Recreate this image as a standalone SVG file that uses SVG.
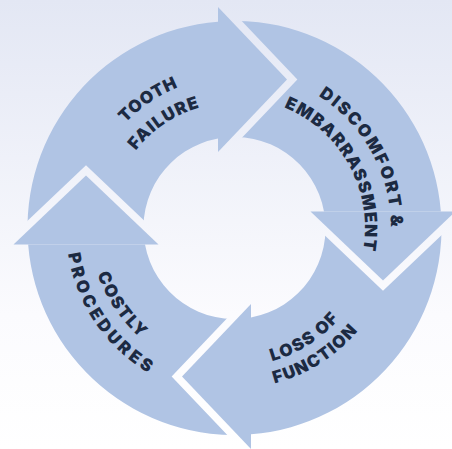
<svg xmlns="http://www.w3.org/2000/svg" xmlns:xlink="http://www.w3.org/1999/xlink" width="452" height="449" viewBox="0 0 452 449">
<style>
.arrow{fill:#b0c4e4}
.lbl{font-family:Inter,"Open Sans","Liberation Sans",sans-serif;font-weight:900;font-size:17px;fill:#1c2a42;text-anchor:middle}
</style>
<defs>
<linearGradient id="bg" x1="0" y1="0" x2="0" y2="1">
<stop offset="0" stop-color="#e3e7f4"/>
<stop offset="0.7" stop-color="#fbfbfe"/>
<stop offset="1" stop-color="#ffffff"/>
</linearGradient>
<mask id="notch" maskUnits="userSpaceOnUse" x="-300" y="-300" width="1100" height="1100">
<rect x="-300" y="-300" width="1100" height="1100" fill="#fff"/>
<polygon points="13.5,244.5 86,175.5 158.5,244.5" fill="#000" stroke="#000" stroke-width="15" stroke-linejoin="miter"/>
</mask>
<g id="arrowShape">
<path class="arrow" mask="url(#notch)" d="M28.12,244.5 A207,207 0 0 1 218,21.66 L218,138.51 A91,91 0 0 0 144.92,244.5 Z"/>
<polygon class="arrow" points="218,7 287,79.5 218,152"/>
</g>
<path id="p1a" d="M83.37,238.57 A151.5,151.5 0 0 1 300.91,91.83"/>
<path id="p1b" d="M109.31,236.75 A125.5,125.5 0 0 1 289.52,115.20"/>
<path id="p2a" d="M237.23,71.52 A156.5,156.5 0 0 1 368.65,308.60"/>
<path id="p2b" d="M236.78,97.52 A130.5,130.5 0 0 1 346.36,295.21"/>
<path id="p3a" d="M170.12,350.63 A138.5,138.5 0 0 0 372.89,222.44"/>
<path id="p3b" d="M159.89,370.11 A160.5,160.5 0 0 0 394.87,221.56"/>
<path id="p4a" d="M104.62,164.66 A144.5,144.5 0 0 0 244.58,372.15"/>
<path id="p4b" d="M83.05,154.13 A168.5,168.5 0 0 0 246.25,396.09"/>
</defs>
<rect width="452" height="449" fill="url(#bg)"/>
<g id="connectors"></g>
<g id="tooth-failure">
<use xlink:href="#arrowShape" href="#arrowShape"/>
<text class="lbl"><textPath href="#p1a" xlink:href="#p1a" startOffset="50%" textLength="64" lengthAdjust="spacing">TOOTH</textPath></text>
<text class="lbl"><textPath href="#p1b" xlink:href="#p1b" startOffset="50%" textLength="78" lengthAdjust="spacing">FAILURE</textPath></text>
</g>
<g id="discomfort-embarrassment">
<use xlink:href="#arrowShape" href="#arrowShape" transform="rotate(90 234.5 228)"/>
<text class="lbl"><textPath href="#p2a" xlink:href="#p2a" startOffset="50%" textLength="156" lengthAdjust="spacing">DISCOMFORT &amp;</textPath></text>
<text class="lbl"><textPath href="#p2b" xlink:href="#p2b" startOffset="50%" textLength="176" lengthAdjust="spacing">EMBARRASSMENT</textPath></text>
</g>
<g id="loss-of-function">
<use xlink:href="#arrowShape" href="#arrowShape" transform="rotate(180 234.5 228)"/>
<text class="lbl"><textPath href="#p3a" xlink:href="#p3a" startOffset="50%" textLength="80" lengthAdjust="spacing">LOSS OF</textPath></text>
<text class="lbl"><textPath href="#p3b" xlink:href="#p3b" startOffset="50%" textLength="100" lengthAdjust="spacing">FUNCTION</textPath></text>
</g>
<g id="costly-procedures">
<use xlink:href="#arrowShape" href="#arrowShape" transform="rotate(270 234.5 228)"/>
<text class="lbl"><textPath href="#p4a" xlink:href="#p4a" startOffset="50%" textLength="78" lengthAdjust="spacing">COSTLY</textPath></text>
<text class="lbl"><textPath href="#p4b" xlink:href="#p4b" startOffset="50%" textLength="148" lengthAdjust="spacing">PROCEDURES</textPath></text>
</g>
</svg>
